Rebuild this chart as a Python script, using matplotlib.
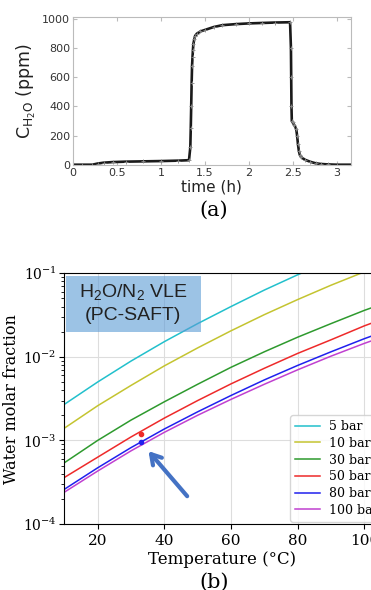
import numpy as np
import matplotlib
matplotlib.use('Agg')
import matplotlib.pyplot as plt
from matplotlib.patches import Rectangle

# ---- panel (a): water concentration vs time ----
time_h = [0.0, 0.10, 0.22, 0.28, 0.35, 0.45, 0.6, 0.8, 1.0, 1.2, 1.32,
          1.335, 1.34, 1.345, 1.35, 1.355, 1.36, 1.365, 1.37, 1.38, 1.39,
          1.41, 1.45, 1.5, 1.6, 1.7, 1.85, 2.0, 2.15, 2.3, 2.47,
          2.48, 2.483, 2.486, 2.49, 2.5, 2.52, 2.54, 2.55, 2.56, 2.57,
          2.58, 2.6, 2.64, 2.7, 2.76, 2.82, 2.9, 3.0, 3.16]
conc_ppm = [0, 0, 0, 8, 14, 18, 21, 23, 25, 28, 31,
            120, 250, 400, 560, 680, 740, 790, 830, 860, 885,
            900, 915, 925, 945, 958, 965, 970, 973, 976, 978,
            800, 600, 400, 300, 290, 270, 245, 200, 140, 95,
            70, 50, 34, 20, 10, 5, 2, 0, 0]

# ---- panel (b): PC-SAFT water molar fraction vs temperature ----
temp_c = [10, 20, 30, 40, 50, 60, 70, 80, 90, 100, 110]
y_5bar = [2.7e-3, 5.0e-3, 8.9e-3, 1.52e-2, 2.5e-2, 4.0e-2, 6.3e-2, 9.6e-2, 0.142, 0.205, 0.29]
y_10bar = [1.4e-3, 2.6e-3, 4.55e-3, 7.8e-3, 1.28e-2, 2.05e-2, 3.2e-2, 4.85e-2, 7.2e-2, 0.104, 0.147]
y_30bar = [5.4e-4, 1.0e-3, 1.75e-3, 2.9e-3, 4.7e-3, 7.5e-3, 1.15e-2, 1.72e-2, 2.5e-2, 3.6e-2, 5.0e-2]
y_50bar = [3.6e-4, 6.3e-4, 1.1e-3, 1.85e-3, 3.0e-3, 4.75e-3, 7.3e-3, 1.1e-2, 1.6e-2, 2.35e-2, 3.3e-2]
y_80bar = [2.6e-4, 4.7e-4, 8.2e-4, 1.37e-3, 2.2e-3, 3.45e-3, 5.3e-3, 7.9e-3, 1.15e-2, 1.65e-2, 2.3e-2]
y_100bar = [2.4e-4, 4.3e-4, 7.5e-4, 1.25e-3, 2.0e-3, 3.1e-3, 4.7e-3, 7.0e-3, 1.02e-2, 1.45e-2, 2.0e-2]
labels = ['5 bar', '10 bar', '30 bar', '50 bar', '80 bar', '100 bar']
colors = ['#22c0cc', '#c4c430', '#2e9a2e', '#ee2a2a', '#2020ee', '#c040d0']

# measured points and arrow
pt_temp = [33, 33]
pt_frac = [1.19e-3, 9.5e-4]
pt_colors = ['#ee2a2a', '#2020ee']
arrow_tail = (47.4, 2.03e-4)
arrow_head = (34.7, 7.9e-4)

plt.rcParams['mathtext.fontset'] = 'dejavuserif'
plt.rcParams['mathtext.rm'] = 'Liberation Sans'

W, H = 371, 590
fig = plt.figure(figsize=(W / 100, H / 100), dpi=100)

# panel (a)
ax1 = fig.add_axes([73 / W, 1 - 165 / H, (350.7 - 73) / W, (165 - 17) / H])
ax1.plot(time_h, conc_ppm, color='#1a1a1a', lw=1.9, marker='+', ms=3,
         mec='#888888', mew=0.6)
ax1.set_xlim(0, 3.16)
ax1.set_ylim(-2, 1014)
ax1.set_xticks([0, 0.5, 1, 1.5, 2, 2.5, 3])
ax1.set_xticklabels(['0', '0.5', '1', '1.5', '2', '2.5', '3'])
ax1.set_yticks([0, 200, 400, 600, 800, 1000])
ax1.tick_params(direction='in', top=True, right=True, length=3,
                color='#bbbbbb', labelcolor='#333333', labelsize=8, pad=2)
for sp in ax1.spines.values():
    sp.set_color('#bbbbbb')
    sp.set_linewidth(0.8)
ax1.set_xlabel('time (h)', fontsize=11, color='#222222', labelpad=1)
ax1.set_ylabel(r'$\mathregular{C_{H_2O}}$ (ppm)', fontsize=12.5, color='#222222',
               math_fontfamily='dejavusans', labelpad=3)
fig.text(214 / W, 1 - 210 / H, '(a)', fontsize=15, family='DejaVu Serif',
         ha='center', va='center')

# panel (b)
ax2 = fig.add_axes([64.3 / W, 1 - 524 / H, (380 - 64.3) / W, (524 - 273.3) / H])
series = [y_5bar, y_10bar, y_30bar, y_50bar, y_80bar, y_100bar]
for ys, lab, col in zip(series, labels, colors):
    ax2.plot(temp_c, ys, color=col, lw=1.1, label=lab)
for tx, fy, col in zip(pt_temp, pt_frac, pt_colors):
    ax2.plot(tx, fy, 'o', color=col, ms=3)
ax2.annotate('', xy=arrow_head, xytext=arrow_tail,
             arrowprops=dict(arrowstyle='->, head_length=0.5, head_width=0.3',
                             lw=3, color='#4472C4', mutation_scale=14))
ax2.set_yscale('log')
ax2.set_xlim(10, 104.7)
ax2.set_ylim(1e-4, 1e-1)
ax2.set_xticks([20, 40, 60, 80, 100])
ax2.grid(True, which='major', color='#dddddd', lw=0.8)
ax2.set_axisbelow(True)
ax2.tick_params(axis='x', labelsize=11)
ax2.tick_params(axis='y', labelsize=10, pad=2)
for lab in ax2.get_xticklabels() + ax2.get_yticklabels():
    lab.set_family('DejaVu Serif')
ax2.set_xlabel('Temperature (°C)', fontsize=12, family='DejaVu Serif', labelpad=2)
ax2.set_ylabel('Water molar fraction', fontsize=11.5, family='DejaVu Serif', labelpad=2)
ax2.legend(loc='upper left', bbox_to_anchor=(290 / W, 1 - 415 / H),
           bbox_transform=fig.transFigure, borderaxespad=0,
           prop={'family': 'DejaVu Serif', 'size': 9}, labelspacing=0.3,
           handlelength=2.0, handletextpad=0.7, framealpha=0.8)

# title box
fig.patches.append(Rectangle((66 / W, 1 - 332 / H), 135 / W, 56 / H,
                             transform=fig.transFigure, facecolor='#5B9BD5',
                             alpha=0.6, edgecolor='none', zorder=5))
fig.text(133 / W, 1 - 292 / H, r'H$\mathregular{_2}$O/N$\mathregular{_2}$ VLE',
         fontsize=14, family='Liberation Sans', math_fontfamily='custom',
         ha='center', va='center', color='#222222', zorder=6)
fig.text(133 / W, 1 - 315 / H, '(PC-SAFT)', fontsize=14, family='Liberation Sans',
         ha='center', va='center', color='#222222', zorder=6)

fig.text(214 / W, 1 - 582 / H, '(b)', fontsize=15, family='DejaVu Serif',
         ha='center', va='center')

fig.savefig('out.png', dpi=100)
